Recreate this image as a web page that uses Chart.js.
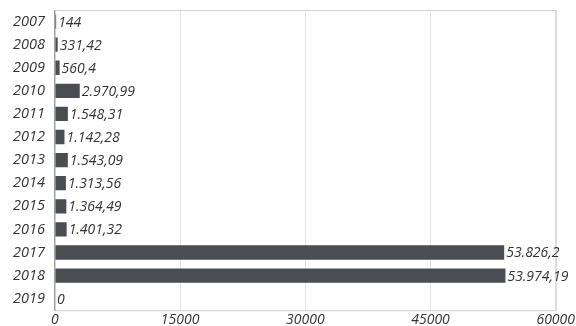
<!DOCTYPE html>
<html>
<head>
<meta charset="utf-8">
<script src="https://cdn.jsdelivr.net/npm/chart.js@4"></script>
<style>
  html, body { margin: 0; padding: 0; background: #fff; }
  #contenedor { width: 576px; height: 326px; }
</style>
</head>
<body>
<div id="contenedor"><canvas id="grafico"></canvas></div>
<script>
const anios = ["2007", "2008", "2009", "2010", "2011", "2012", "2013", "2014", "2015", "2016", "2017", "2018", "2019"];
const valores = [144, 331.42, 560.4, 2970.99, 1548.31, 1142.28, 1543.09, 1313.56, 1364.49, 1401.32, 53826.2, 53974.19, 0];
const ticksX = [0, 15000, 30000, 45000, 60000];

const fuente = "'Open Sans', sans-serif";

// formato 1.234,56
const formatear = (n) => {
  const partes = String(n).split(".");
  partes[0] = partes[0].replace(/\B(?=(\d{3})+(?!\d))/g, ".");
  return partes.join(",");
};

const etiquetas = {
  id: "etiquetas",
  afterDatasetsDraw(chart) {
    const ctx = chart.ctx;
    const meta = chart.getDatasetMeta(0);
    ctx.save();
    ctx.font = "italic 14px " + fuente;
    ctx.fillStyle = "#333";
    ctx.textBaseline = "middle";
    meta.data.forEach((bar, i) => {
      ctx.fillText(formatear(valores[i]), bar.x + 2, bar.y + 1);
    });
    ctx.restore();
  },
};

const borde = {
  id: "borde",
  beforeDatasetsDraw(chart) {
    const { ctx, chartArea } = chart;
    ctx.save();
    ctx.strokeStyle = "#d0d0d0";
    ctx.lineWidth = 1;
    ctx.strokeRect(chartArea.left + 0.5, chartArea.top + 0.5, chartArea.right - chartArea.left, chartArea.bottom - chartArea.top);
    ctx.restore();
  },
};

new Chart(document.getElementById("grafico"), {
  type: "bar",
  data: {
    labels: anios,
    datasets: [
      {
        data: valores,
        backgroundColor: "#4a4d51",
        barPercentage: 0.62,
        categoryPercentage: 1,
      },
    ],
  },
  options: {
    indexAxis: "y",
    responsive: true,
    maintainAspectRatio: false,
    animation: false,
    layout: { padding: { top: 10, right: 0, left: 3, bottom: -3 } },
    plugins: {
      legend: { display: false },
      tooltip: { enabled: false },
    },
    scales: {
      x: {
        min: 0,
        max: 60000,
        afterBuildTicks: (eje) => {
          eje.ticks = ticksX.map((v) => ({ value: v }));
        },
        grid: { color: "#e3e3e3", drawTicks: false },
        border: { display: false },
        ticks: {
          font: { family: fuente, size: 14, style: "italic" },
          color: "#333",
          padding: 1,
          maxRotation: 0,
          callback: (v) => String(v),
        },
      },
      y: {
        grid: { display: false, drawTicks: false },
        border: { display: true, color: "#9a9a9a" },
        ticks: {
          font: { family: fuente, size: 14.5, style: "italic" },
          color: "#333",
          padding: 10,
        },
        afterFit: (eje) => {
          eje.paddingTop = 0;
          eje.paddingBottom = 0;
        },
      },
    },
  },
  plugins: [etiquetas, borde],
});
</script>
</body>
</html>
